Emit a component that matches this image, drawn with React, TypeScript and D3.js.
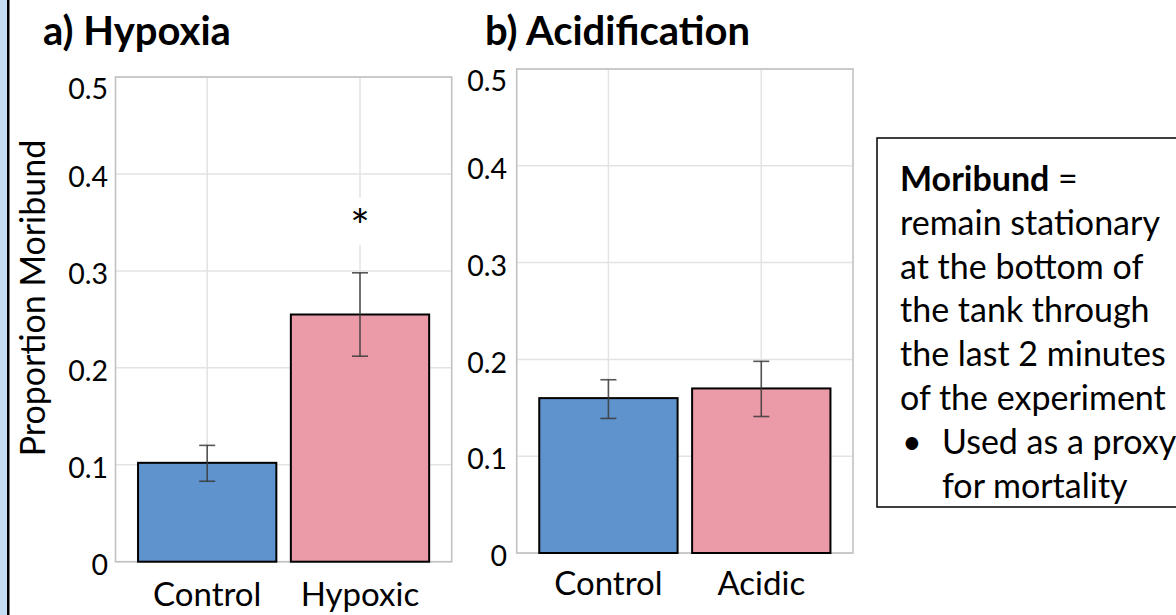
import React from "react";
import * as d3 from "d3";

const hypoxiaCategories = ["Control", "Hypoxic"];
const hypoxiaValues = [0.102, 0.255];
const hypoxiaErrLow = [0.083, 0.212];
const hypoxiaErrHigh = [0.12, 0.298];

const acidCategories = ["Control", "Acidic"];
const acidValues = [0.16, 0.17];
const acidErrLow = [0.139, 0.141];
const acidErrHigh = [0.179, 0.198];

const yTicks = [0, 0.1, 0.2, 0.3, 0.4, 0.5];
const yTickLabels = ["0", "0.1", "0.2", "0.3", "0.4", "0.5"];

const panelTitles = ["a) Hypoxia", "b) Acidification"];
const yAxisTitle = "Proportion Moribund";
const significance = ["", "*"];

const noteLines = [
  "remain stationary",
  "at the bottom of",
  "the tank through",
  "the last 2 minutes",
  "of the experiment",
];
const noteBullet = ["Used as a proxy", "for mortality"];

const FONT = "Lato, 'Open Sans', sans-serif";
const BAR_COLORS = ["#5f93cd", "#eb9ba8"];

type PanelProps = {
  categories: string[];
  values: number[];
  low: number[];
  high: number[];
  marks: string[];
  x0: number;
  x1: number;
  yTop: number;
  yBottom: number;
  tickRight: number;
  labelBaseline: number;
};

function Panel(p: PanelProps) {
  const x = d3.scalePoint<string>().domain(p.categories).range([p.x0, p.x1]).padding(0.6);
  const y = d3.scaleLinear().domain([0, 0.5]).range([p.yBottom, p.yTop]);
  const step = x.step();
  const barW = step * 0.905;
  const capW = 16;
  return (
    <g>
      {yTicks.map((t) => (
        <line key={"gy" + t} x1={p.x0} x2={p.x1} y1={y(t)} y2={y(t)} stroke="#e3e3e3" strokeWidth={1.5} />
      ))}
      {p.categories.map((c) => (
        <line key={"gx" + c} x1={x(c)} x2={x(c)} y1={p.yTop} y2={p.yBottom} stroke="#e3e3e3" strokeWidth={1.5} />
      ))}
      <rect x={p.x0} y={p.yTop} width={p.x1 - p.x0} height={p.yBottom - p.yTop} fill="none" stroke="#c2c2c2" strokeWidth={1.6} />
      {p.categories.map((c, i) => (
        <rect
          key={"bar" + c}
          x={(x(c) as number) - barW / 2}
          y={y(p.values[i])}
          width={barW}
          height={y(0) - y(p.values[i])}
          fill={BAR_COLORS[i]}
          stroke="#000"
          strokeWidth={2}
        />
      ))}
      {p.categories.map((c, i) => {
        const cx = x(c) as number;
        return (
          <g key={"err" + c} stroke="#3a3a3a" strokeOpacity={0.85} strokeWidth={1.6}>
            <line x1={cx} x2={cx} y1={y(p.low[i])} y2={y(p.high[i])} />
            <line x1={cx - capW / 2} x2={cx + capW / 2} y1={y(p.low[i])} y2={y(p.low[i])} />
            <line x1={cx - capW / 2} x2={cx + capW / 2} y1={y(p.high[i])} y2={y(p.high[i])} />
          </g>
        );
      })}
      {p.categories.map((c, i) =>
        p.marks[i] ? (
          <g key={"sig" + c}>
            <rect x={(x(c) as number) - 8} y={y(p.high[i]) - 75} width={16} height={47} fill="#fff" />
            <text x={x(c)} y={y(p.high[i]) - 30} textAnchor="middle" fontFamily={FONT} fontSize={46} fill="#000">
              {p.marks[i]}
            </text>
          </g>
        ) : null
      )}
      {yTicks.map((t, i) => (
        <text
          key={"yl" + t}
          x={p.tickRight}
          y={Math.max(y(t) + 3, p.yTop + 12)}
          dy="0.36em"
          textAnchor="end"
          fontFamily={FONT}
          fontSize={28.5}
          fill="#000"
        >
          {yTickLabels[i]}
        </text>
      ))}
      {p.categories.map((c) => (
        <text key={"xl" + c} x={x(c)} y={p.labelBaseline} textAnchor="middle" fontFamily={FONT} fontSize={33} fill="#000">
          {c}
        </text>
      ))}
    </g>
  );
}

export default function App() {
  const lineH = 43.8;
  const firstBase = 191;
  return (
    <div style={{ position: "absolute", left: 0, top: 0 }}>
      <svg width={1176} height={615} style={{ display: "block", background: "#fff" }}>
        <rect x={0} y={0} width={1176} height={615} fill="#fff" />
        <rect x={0} y={0} width={7} height={615} fill="#c6ddf6" />
        <rect x={7} y={0} width={2.5} height={615} fill="#000" />

        <text x={43} y={45} fontFamily={FONT} fontWeight={700} fontSize={40} fill="#000">
          {panelTitles[0]}
        </text>
        <text x={485} y={45} fontFamily={FONT} fontWeight={700} fontSize={40} fill="#000">
          {panelTitles[1]}
        </text>

        <text
          transform="translate(45,298) rotate(-90)"
          textAnchor="middle"
          fontFamily={FONT}
          fontSize={34}
          fill="#000"
        >
          {yAxisTitle}
        </text>

        <Panel
          categories={hypoxiaCategories}
          values={hypoxiaValues}
          low={hypoxiaErrLow}
          high={hypoxiaErrHigh}
          marks={significance}
          x0={115.5}
          x1={451.7}
          yTop={77}
          yBottom={561.7}
          tickRight={108}
          labelBaseline={606}
        />
        <Panel
          categories={acidCategories}
          values={acidValues}
          low={acidErrLow}
          high={acidErrHigh}
          marks={["", ""]}
          x0={516.7}
          x1={853}
          yTop={69}
          yBottom={553}
          tickRight={507}
          labelBaseline={595}
        />

        <rect x={877} y={138} width={330} height={369} fill="none" stroke="#000" strokeWidth={1.5} />
        <text x={900} y={firstBase} fontFamily={FONT} fontSize={34} fill="#000">
          <tspan fontWeight={700}>Moribund</tspan>
          <tspan> =</tspan>
        </text>
        {noteLines.map((l, i) => (
          <text key={l} x={900} y={firstBase + lineH * (i + 1)} fontFamily={FONT} fontSize={34} fill="#000">
            {l}
          </text>
        ))}
        <text x={902} y={firstBase + lineH * 6} fontFamily={FONT} fontSize={34} fill="#000">
          •
        </text>
        {noteBullet.map((l, i) => (
          <text key={l} x={942} y={firstBase + lineH * (6 + i)} fontFamily={FONT} fontSize={34} fill="#000">
            {l}
          </text>
        ))}
      </svg>
    </div>
  );
}
